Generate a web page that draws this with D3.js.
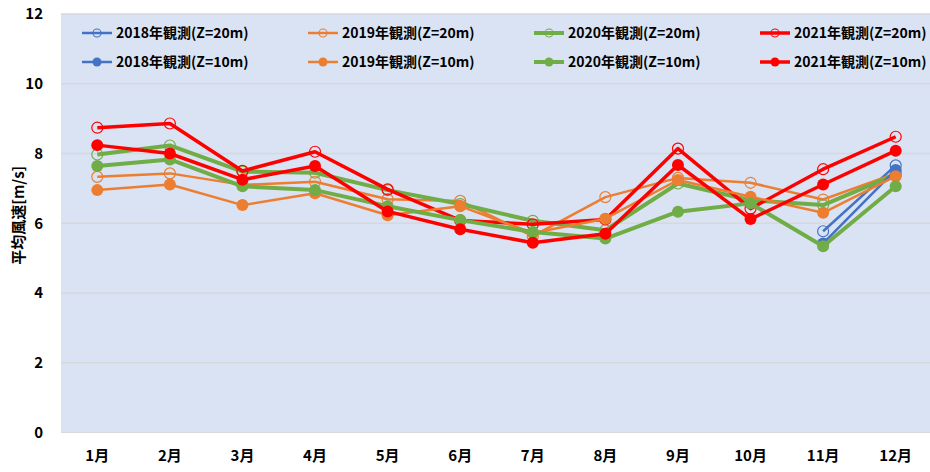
<!DOCTYPE html>
<html><head><meta charset="utf-8">
<script src="https://cdn.jsdelivr.net/npm/d3@7"></script>
<style>
html,body{margin:0;padding:0;background:#fff;}
svg{display:block;font-family:"Noto Sans CJK JP","Noto Sans",sans-serif;font-weight:bold;}
</style></head>
<body><svg id="c" width="930" height="472"></svg>
<script>
const months = ["1月","2月","3月","4月","5月","6月","7月","8月","9月","10月","11月","12月"];
const yTicks = [0,2,4,6,8,10,12];
const yTitle = "平均風速[m/s]";

const s2018_20 = [null,null,null,null,null,null,null,null,null,null,5.77,7.66];
const s2019_20 = [7.33,7.43,7.10,7.19,6.69,6.64,5.63,6.75,7.30,7.16,6.68,7.43];
const s2020_20 = [7.97,8.23,7.48,7.45,6.95,6.55,6.07,5.80,7.14,6.66,6.52,7.40];
const s2021_20 = [8.74,8.86,7.50,8.05,6.97,6.08,5.97,6.11,8.14,6.42,7.55,8.48];
const s2018_10 = [null,null,null,null,null,null,null,null,null,null,5.42,7.53];
const s2019_10 = [6.95,7.11,6.52,6.86,6.23,6.49,5.72,6.13,7.24,6.76,6.30,7.35];
const s2020_10 = [7.64,7.83,7.06,6.95,6.49,6.09,5.75,5.56,6.33,6.57,5.34,7.06];
const s2021_10 = [8.24,8.00,7.25,7.64,6.34,5.83,5.44,5.70,7.67,6.12,7.11,8.08];

const seriesNames = ["2018年観測(Z=20m)","2019年観測(Z=20m)","2020年観測(Z=20m)","2021年観測(Z=20m)",
                     "2018年観測(Z=10m)","2019年観測(Z=10m)","2020年観測(Z=10m)","2021年観測(Z=10m)"];
const seriesValues = [s2018_20,s2019_20,s2020_20,s2021_20,s2018_10,s2019_10,s2020_10,s2021_10];
const colors = {"2018":"#4472C4","2019":"#ED7D31","2020":"#70AD47","2021":"#FF0000"};
const widths = {"2018":2.5,"2019":2.5,"2020":4,"2021":3.5};

const series = seriesNames.map((n,i)=>({name:n, year:n.slice(0,4), open:n.includes("20m"), values:seriesValues[i]}));

const svg = d3.select("#c");
const L=61, R=932, T=14, B=432.5;
const x = d3.scaleBand().domain(months).range([L,R]);
const y = d3.scaleLinear().domain([0,12]).range([B,T]);

svg.append("rect").attr("x",L).attr("y",T).attr("width",R-L).attr("height",B-T).attr("fill","#DAE3F3");

svg.append("g").selectAll("line").data(yTicks.filter(d=>d>0)).join("line")
  .attr("x1",L).attr("x2",R).attr("y1",d=>y(d)).attr("y2",d=>y(d))
  .attr("stroke","#D5D8DC").attr("stroke-width",1.5);
svg.append("line").attr("x1",L).attr("x2",R).attr("y1",B).attr("y2",B).attr("stroke","#D9D9D9").attr("stroke-width",1);

const yAxis = svg.append("g").attr("transform",`translate(${L},0)`)
  .call(d3.axisLeft(y).tickValues(yTicks).tickSize(0).tickPadding(18).tickFormat(d3.format("d")));
yAxis.select(".domain").remove();
yAxis.selectAll("text").attr("font-size",15).attr("font-weight","bold").attr("fill","#000").attr("font-family","'Noto Sans CJK JP',sans-serif");

const xAxis = svg.append("g").attr("transform",`translate(0,${B})`)
  .call(d3.axisBottom(x).tickSize(0).tickPadding(18));
xAxis.select(".domain").remove();
xAxis.selectAll("text").attr("font-size",15).attr("font-weight","bold").attr("fill","#000").attr("font-family","'Noto Sans CJK JP',sans-serif");

svg.append("text").attr("transform",`translate(24,${(T+B)/2 - 8}) rotate(-90)`)
  .attr("text-anchor","middle").attr("font-size",15).attr("fill","#000").text(yTitle);

const line = d3.line().defined(d=>d!=null).x((d,i)=>x(months[i])+x.bandwidth()/2).y(d=>y(d));
const cx = i=>x(months[i])+x.bandwidth()/2;

series.forEach(s=>{
  const g = svg.append("g");
  g.append("path").attr("d",line(s.values)).attr("fill","none")
    .attr("stroke",colors[s.year]).attr("stroke-width",widths[s.year]).attr("stroke-linejoin","round");
  const pts = s.values.map((v,i)=>({v,i})).filter(d=>d.v!=null);
  g.selectAll("circle").data(pts).join("circle")
    .attr("cx",d=>cx(d.i)).attr("cy",d=>y(d.v)).attr("r",s.open?5.5:6)
    .attr("fill",s.open?"none":colors[s.year])
    .attr("stroke",colors[s.year]).attr("stroke-width",s.open?1.2:0);
});

// legend
const colX = [82,308,534,760];
const rowY = [33,62];
const lg = svg.append("g");
series.forEach((s,i)=>{
  const c = i%4, r = Math.floor(i/4);
  const gx = colX[c], gy = rowY[r];
  const g = lg.append("g").attr("transform",`translate(${gx},${gy})`);
  g.append("line").attr("x1",0).attr("x2",30).attr("y1",0).attr("y2",0)
    .attr("stroke",colors[s.year]).attr("stroke-width",widths[s.year]);
  g.append("circle").attr("cx",15).attr("cy",0).attr("r",s.open?4:4.5)
    .attr("fill",s.open?"none":colors[s.year]).attr("stroke",colors[s.year]).attr("stroke-width",s.open?1.1:0);
  g.append("text").attr("x",34).attr("y",0).attr("dy","0.35em").attr("font-size",14).attr("fill","#000").text(s.name);
});
</script></body></html>
